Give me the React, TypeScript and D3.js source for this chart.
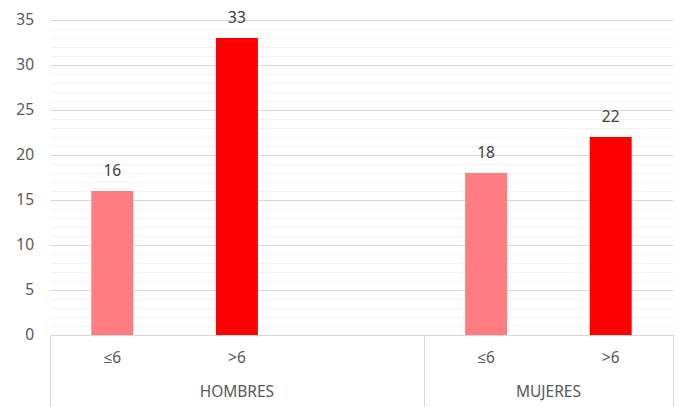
import React from "react";
import * as d3 from "d3";

const categories = ["H-≤6", "H->6", "H-gap", "M-≤6", "M->6"];
const categoryLabels = ["≤6", ">6", "", "≤6", ">6"];
const values: (number | null)[] = [16, 33, null, 18, 22];
const barColors = ["#FF7C80", "#FF0000", "#FF0000", "#FF7C80", "#FF0000"];
const groups = [
  { name: "HOMBRES", from: 0, to: 2 },
  { name: "MUJERES", from: 3, to: 4 },
];
const yTicks = [0, 5, 10, 15, 20, 25, 30, 35];

const W = 678;
const H = 407;
const left = 50;
const right = 673;
const top = 20;
const bottom = 335;
const font = "'Noto Sans', 'Open Sans', sans-serif";
const fs = 15.5;

export default function App() {
  const x = d3.scaleBand<string>().domain(categories).range([left, right]).padding(0);
  const y = d3.scaleLinear().domain([0, 35]).range([bottom, top]);
  const barW = x.bandwidth() * 0.337;
  const minor = d3.range(0, 36, 1).filter((v) => v % 5 !== 0);
  return (
    <svg width={W} height={H} style={{ position: "absolute", left: 0, top: 0, background: "#fff" }}>
      {minor.map((v) => (
        <line key={"m" + v} x1={left} x2={right} y1={Math.round(y(v)) + 0.5} y2={Math.round(y(v)) + 0.5} stroke="#F2F2F2" strokeWidth={1} />
      ))}
      {yTicks.map((v) => (
        <line key={"g" + v} x1={left} x2={right} y1={Math.round(y(v)) + 0.5} y2={Math.round(y(v)) + 0.5} stroke="#D9D9D9" strokeWidth={1} />
      ))}
      {yTicks.map((v) => (
        <text key={"t" + v} x={34} y={y(v)} dy="0.35em" textAnchor="end" fontFamily={font} fontSize={fs} fill="#595959">
          {v}
        </text>
      ))}
      {categories.map((c, i) => {
        const v = values[i];
        if (v == null) return null;
        const cx = (x(c) as number) + x.bandwidth() / 2;
        return (
          <g key={c}>
            <rect x={cx - barW / 2} y={y(v)} width={barW} height={y(0) - y(v)} fill={barColors[i]} />
            <text x={cx} y={y(v) - 20} dy="0.35em" textAnchor="middle" fontFamily={font} fontSize={fs} fill="#404040">
              {v}
            </text>
          </g>
        );
      })}
      <line x1={left} x2={right} y1={bottom + 0.5} y2={bottom + 0.5} stroke="#D9D9D9" />
      {categories.map((c, i) => (
        <text key={"cl" + c} x={(x(c) as number) + x.bandwidth() / 2} y={358} dy="0.35em" textAnchor="middle" fontFamily={font} fontSize={fs} fill="#595959">
          {categoryLabels[i]}
        </text>
      ))}
      {[0, 3, 5].map((i) => {
        const xx = i < categories.length ? (x(categories[i]) as number) : right;
        return <line key={"s" + i} x1={Math.round(xx) + 0.5} x2={Math.round(xx) + 0.5} y1={bottom} y2={H} stroke="#D9D9D9" />;
      })}
      {groups.map((g) => {
        const x0 = x(categories[g.from]) as number;
        const x1 = (x(categories[g.to]) as number) + x.bandwidth();
        return (
          <text key={g.name} x={(x0 + x1) / 2} y={392} dy="0.35em" textAnchor="middle" fontFamily={font} fontSize={fs} fill="#595959">
            {g.name}
          </text>
        );
      })}
    </svg>
  );
}
